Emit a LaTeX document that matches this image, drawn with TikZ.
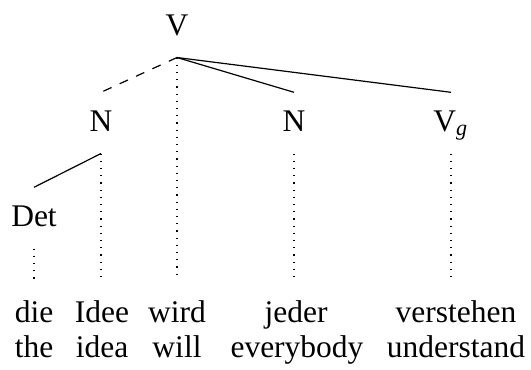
\documentclass[tikz,border=0pt]{standalone}
\usepackage{fontspec}
\setmainfont{Liberation Serif}
\usepackage{tikz}
\usetikzlibrary{positioning}

\begin{document}
\begin{tikzpicture}[
        x=0.3333pt, y=-0.3333pt,
        every node/.style={font=\fontsize{10.5}{12.6}\selectfont},
        cat/.style={anchor=base, inner xsep=0pt, inner ysep=7.3pt, text height=5.4pt, text depth=0pt},
        word/.style={anchor=base, inner xsep=0pt, inner ysep=7pt, text height=7pt, text depth=2pt},
        gloss/.style={anchor=base, inner sep=0pt},
        branch/.style={thin, draw=black},
        trace/.style={thin, dashed, draw=black},
        proj/.style={thin, dotted, draw=black}
    ]
        \useasboundingbox (0,0) rectangle (531,369);

        % Tree
        \node[cat] (v) at (177,35) {V};
        \node[cat] (nA) at (101,131) {N};
        \node[cat] (nB) at (294,131) {N};
        \node[cat] (vg) at (451,131) {V\textsubscript{\itshape g}};
        \node[cat] (det) at (34,226) {Det};

        % Words
        \node[word] (die) at (34,322) {die};
        \node[word] (idee) at (102,322) {Idee};
        \node[word] (wird) at (177,322) {wird};
        \node[word] (jeder) at (296,322) {jeder};
        \node[word] (verstehen) at (456,322) {verstehen};

        % Glosses
        \node[gloss] (the) at (34,357) {the};
        \node[gloss] (idea) at (102,357) {idea};
        \node[gloss] (will) at (177,357) {will};
        \node[gloss] (everybody) at (297,357) {everybody};
        \node[gloss] (understand) at (456,357) {understand};

        % Connections
        \draw[trace] (v.south) -- (nA.north);
        \draw[branch] (v.south) -- (nB.north);
        \draw[branch] (v.south) -- (vg.north);
        \draw[branch] (nA.south) -- (det.north);
        \draw[proj] (v.south) -- (v.south |- wird.north);
        \draw[proj] (nA.south) -- (nA.south |- idee.north);
        \draw[proj] (nB.south) -- (nB.south |- jeder.north);
        \draw[proj] (vg.south) -- (vg.south |- verstehen.north);
        \draw[proj] (det.south) -- (det.south |- die.north);
    \end{tikzpicture}
\end{document}
